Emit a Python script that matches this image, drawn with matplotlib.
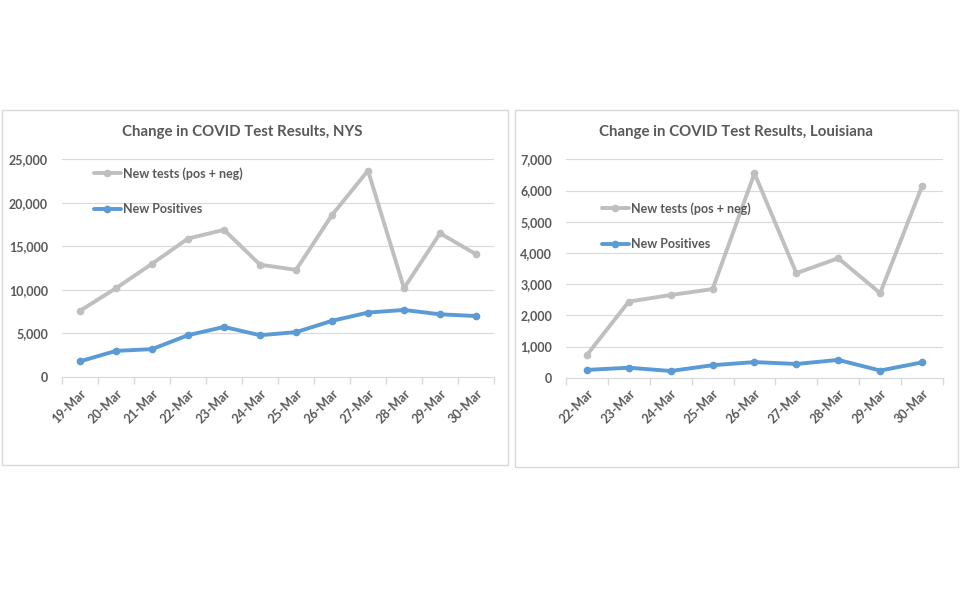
import matplotlib
matplotlib.use("Agg")
import matplotlib.pyplot as plt
import matplotlib.ticker as ticker
from matplotlib.patches import Rectangle

plt.rcParams['font.family'] = ['Lato', 'DejaVu Sans']

# NYS data
nys_dates = ['19-Mar', '20-Mar', '21-Mar', '22-Mar', '23-Mar', '24-Mar',
             '25-Mar', '26-Mar', '27-Mar', '28-Mar', '29-Mar', '30-Mar']
nys_tests = [7600, 10200, 13000, 15900, 16900, 12900, 12300, 18600, 23700, 10200, 16500, 14100]
nys_pos = [1800, 3000, 3200, 4800, 5750, 4800, 5150, 6450, 7400, 7700, 7200, 7000]

# Louisiana data
la_dates = ['22-Mar', '23-Mar', '24-Mar', '25-Mar', '26-Mar', '27-Mar', '28-Mar', '29-Mar', '30-Mar']
la_tests = [730, 2440, 2650, 2840, 6550, 3350, 3830, 2710, 6140]
la_pos = [250, 320, 215, 400, 500, 440, 570, 230, 490]

GRAY = '#bfbfbf'
BLUE = '#5b9bd5'
TXT = '#595959'
GRID = '#d9d9d9'

W, H = 962, 606
fig = plt.figure(figsize=(W / 100, H / 100), dpi=100)


def frac(x0, y0, x1, y1):
    # pixel box (top-left origin) -> figure fraction rect
    return [x0 / W, 1 - y1 / H, (x1 - x0) / W, (y1 - y0) / H]


# chart frames
for x0, y0, x1, y1 in [(2, 110, 508, 465), (515, 110, 958, 467)]:
    fig.patches.append(Rectangle((x0 / W, 1 - y1 / H), (x1 - x0) / W, (y1 - y0) / H,
                                 transform=fig.transFigure, fill=False,
                                 edgecolor=GRID, lw=1))


def draw(rect, dates, tests, pos, ymax, step, title, title_x, leg_xy):
    ax = fig.add_axes(rect)
    x = list(range(len(dates)))
    ax.plot(x, tests, color=GRAY, lw=2.8, marker='o', ms=4.5, solid_capstyle='round',
            label='New tests (pos + neg)')
    ax.plot(x, pos, color=BLUE, lw=2.8, marker='o', ms=4.5, solid_capstyle='round',
            label='New Positives')
    ax.set_xlim(-0.5, len(dates) - 0.5)
    ax.set_ylim(0, ymax)
    ax.yaxis.set_major_locator(ticker.MultipleLocator(step))
    ax.yaxis.set_major_formatter(ticker.FuncFormatter(lambda v, p: f'{int(v):,}'))
    ax.set_xticks(x)
    ax.set_xticklabels(dates, rotation=45, ha='right', rotation_mode='anchor')
    ax.set_xticks([i - 0.5 for i in range(len(dates) + 1)], minor=True)
    ax.tick_params(axis='x', which='major', length=0, pad=7, labelsize=9, labelcolor=TXT)
    ax.tick_params(axis='x', which='minor', length=5, color=GRID, width=1)
    ax.tick_params(axis='y', length=0, pad=10, labelsize=9, labelcolor=TXT)
    ax.grid(axis='y', color=GRID, lw=0.8)
    ax.set_axisbelow(True)
    for s in ['top', 'right', 'left']:
        ax.spines[s].set_visible(False)
    ax.spines['bottom'].set_color(GRID)
    for lab in ax.get_xticklabels() + ax.get_yticklabels():
        lab.set_fontweight('bold')
    fig.text(title_x / W, 1 - 132 / H, title, ha='center', va='center',
             fontsize=10.8, fontweight='bold', color=TXT)
    ax.legend(loc='upper left', bbox_to_anchor=(leg_xy[0] / W, 1 - leg_xy[1] / H),
              bbox_transform=fig.transFigure, frameon=False, borderpad=0,
              borderaxespad=0, handlelength=2.15, handletextpad=0.15,
              labelspacing=1.9, prop={'size': 9, 'weight': 'bold'},
              labelcolor=TXT)
    return ax


draw(frac(62, 159.3, 494, 377), nys_dates, nys_tests, nys_pos, 25000, 5000,
     'Change in COVID Test Results, NYS', 242, (94, 167))
draw(frac(566, 159.3, 943, 377.7), la_dates, la_tests, la_pos, 7000, 1000,
     'Change in COVID Test Results, Louisiana', 736, (602, 202))

fig.savefig('out.png', dpi=100)
